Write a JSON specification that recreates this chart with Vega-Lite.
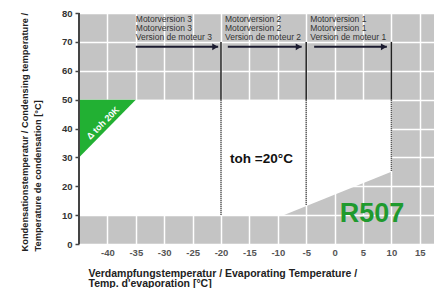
{
  "$schema": "https://vega.github.io/schema/vega-lite/v6.json",
  "width": 355,
  "height": 231,
  "autosize": {"type": "none"},
  "padding": {"left": 79, "top": 13, "right": 4, "bottom": 44},
  "background": "white",
  "view": {"fill": "#c4c4c4", "stroke": null},
  "config": {"font": "Liberation Sans"},
  "datasets": {
    "envelope": [
      {"te": -45, "tc": 10, "tc2": 50},
      {"te": -9, "tc": 10, "tc2": 50},
      {"te": 10, "tc": 25, "tc2": 50}
    ],
    "triangle": [
      {"te": -45, "tc": 30, "tc2": 50},
      {"te": -35, "tc": 50, "tc2": 50}
    ],
    "yline": [{"te": -45, "tc": 0, "tc2": 80}],
    "limitsUpper": [
      {"te": -20, "tc": 70, "tc2": 50},
      {"te": -5, "tc": 70, "tc2": 50},
      {"te": 10, "tc": 70, "tc2": 50}
    ],
    "limitsLower": [
      {"te": -20, "tc": 50, "tc2": 10},
      {"te": -5, "tc": 50, "tc2": 13.4},
      {"te": 10, "tc": 50, "tc2": 25}
    ],
    "arrows": [
      {"te": -35, "te2": -20.5, "tc": 68.3},
      {"te": -18.8, "te2": -5.8, "tc": 68.3},
      {"te": -3.6, "te2": 9.2, "tc": 68.3}
    ],
    "heads": [
      {"te": -20.5, "tc": 68.3},
      {"te": -5.8, "tc": 68.3},
      {"te": 9.2, "tc": 68.3}
    ],
    "labels": [
      {"te": -35, "tc": 77.0, "label": "Motorversion 3"},
      {"te": -35, "tc": 73.9, "label": "Motorversion 3"},
      {"te": -35, "tc": 70.8, "label": "Version de moteur 3"},
      {"te": -19.3, "tc": 77.0, "label": "Motorversion 2"},
      {"te": -19.3, "tc": 73.9, "label": "Motorversion 2"},
      {"te": -19.3, "tc": 70.8, "label": "Version de moteur 2"},
      {"te": -4.3, "tc": 77.0, "label": "Motorversion 1"},
      {"te": -4.3, "tc": 73.9, "label": "Motorversion 1"},
      {"te": -4.3, "tc": 70.8, "label": "Version de moteur 1"}
    ],
    "toh": [{"te": -18.4, "tc": 28, "label": "toh =20°C"}],
    "refr": [{"te": 6.6, "tc": 7.6, "label": "R507"}],
    "delta": [{"te": -40.8, "tc": 41.9, "label": "Δ toh 20K"}]
  },
  "encoding": {
    "x": {
      "field": "te", "type": "quantitative",
      "scale": {"domain": [-45, 17.5], "nice": false, "zero": false},
      "axis": {
        "title": ["Verdampfungstemperatur / Evaporating Temperature /", "Temp. d'evaporation [°C]"],
        "titleFontSize": 10.5, "titleFontWeight": "bold", "titleColor": "#222",
        "titleAlign": "left", "titleAnchor": "start", "titleX": 9, "titleY": 32,
        "titleBaseline": "alphabetic", "titleLineHeight": 10.5,
        "values": [-40, -35, -30, -25, -20, -15, -10, -5, 0, 5, 10, 15],
        "labelExpr": "'' + datum.value",
        "labelOverlap": false,
        "domain": false, "ticks": false,
        "labelFontSize": 9.5, "labelFontWeight": "bold", "labelColor": "#555", "labelPadding": 3,
        "grid": true, "gridColor": "white", "gridWidth": 1.5, "gridOpacity": 1
      }
    },
    "y": {
      "field": "tc", "type": "quantitative",
      "scale": {"domain": [0, 80], "nice": false},
      "axis": {
        "title": ["Kondensationstemperatur / Condensing temperature /", "Temperature de condensation [°C]"],
        "titleFontSize": 9.3, "titleFontWeight": "bold", "titleColor": "#222",
        "titleAngle": 270, "titleAlign": "left", "titleX": -52, "titleY": 238,
        "titleBaseline": "alphabetic", "titleLineHeight": 13,
        "values": [0, 10, 20, 30, 40, 50, 60, 70, 80],
        "labelOverlap": false,
        "domain": false, "tickSize": 4, "tickColor": "#444", "tickWidth": 1.5,
        "labelFontSize": 9.5, "labelFontWeight": "bold", "labelColor": "#333", "labelPadding": 3,
        "grid": true, "gridColor": "white", "gridWidth": 1.5, "gridOpacity": 1
      }
    }
  },
  "layer": [
    {
      "data": {"name": "envelope"},
      "mark": {"type": "area", "color": "white", "opacity": 1},
      "encoding": {"y2": {"field": "tc2"}}
    },
    {
      "data": {"name": "triangle"},
      "mark": {"type": "area", "color": "#22b033", "opacity": 1},
      "encoding": {"y2": {"field": "tc2"}}
    },
    {
      "data": {"name": "yline"},
      "mark": {"type": "rule", "color": "#444", "strokeWidth": 2},
      "encoding": {"y2": {"field": "tc2"}}
    },
    {
      "data": {"name": "limitsUpper"},
      "mark": {"type": "rule", "color": "#222", "strokeWidth": 1.5},
      "encoding": {"y2": {"field": "tc2"}}
    },
    {
      "data": {"name": "limitsLower"},
      "mark": {"type": "rule", "color": "#222", "strokeWidth": 1.5, "strokeDash": [1, 1]},
      "encoding": {"y2": {"field": "tc2"}}
    },
    {
      "data": {"name": "arrows"},
      "mark": {"type": "rule", "color": "#1c1c30", "strokeWidth": 2},
      "encoding": {"x2": {"field": "te2"}}
    },
    {
      "data": {"name": "heads"},
      "mark": {"type": "point", "shape": "triangle-right", "filled": true, "color": "#1c1c30", "size": 45, "opacity": 1, "xOffset": -3},
      "encoding": {}
    },
    {
      "data": {"name": "labels"},
      "mark": {"type": "text", "align": "left", "baseline": "alphabetic", "fontSize": 8.5, "color": "#333"},
      "encoding": {"text": {"field": "label"}}
    },
    {
      "data": {"name": "toh"},
      "mark": {"type": "text", "align": "left", "baseline": "alphabetic", "fontSize": 13.5, "fontWeight": "bold", "color": "#111"},
      "encoding": {"text": {"field": "label"}}
    },
    {
      "data": {"name": "refr"},
      "mark": {"type": "text", "align": "center", "baseline": "alphabetic", "fontSize": 27, "fontWeight": "bold", "color": "#1f9a2e"},
      "encoding": {"text": {"field": "label"}}
    },
    {
      "data": {"name": "delta"},
      "mark": {"type": "text", "align": "center", "baseline": "middle", "fontSize": 9, "fontWeight": "bold", "color": "white", "angle": 315},
      "encoding": {"text": {"field": "label"}}
    }
  ]
}
